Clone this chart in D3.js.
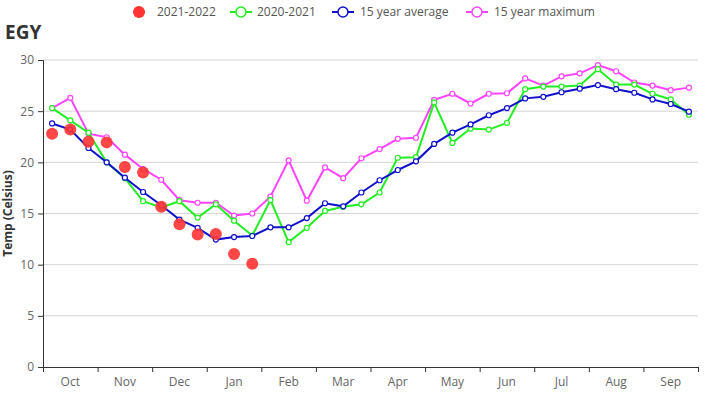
<!DOCTYPE html>
<html><head><meta charset="utf-8">
<script src="https://cdn.jsdelivr.net/npm/d3@7"></script>
<style>body{margin:0;background:#fff;}svg{display:block;font-family:"Open Sans",sans-serif;}</style>
</head><body><svg id="c" width="726" height="400"></svg>
<script>
const months = ["Oct","Nov","Dec","Jan","Feb","Mar","Apr","May","Jun","Jul","Aug","Sep"];
const yTicks = [0,5,10,15,20,25,30];
const cur = [22.8,23.2,22.0,21.95,19.55,19.0,15.65,13.95,12.95,13.0,11.05,10.1];
const prev = [25.3,24.1,22.9,20.0,18.45,16.2,15.6,16.2,14.6,15.9,14.3,12.85,16.3,12.2,13.6,15.25,15.65,15.9,17.05,20.45,20.5,25.85,21.9,23.3,23.2,23.85,27.15,27.4,27.4,27.5,29.1,27.6,27.6,26.7,26.15,24.65];
const avg = [23.8,23.2,21.4,20.0,18.5,17.1,15.8,14.4,13.6,12.45,12.7,12.8,13.65,13.65,14.55,16.0,15.7,17.05,18.25,19.25,20.1,21.8,22.9,23.7,24.6,25.3,26.25,26.4,26.85,27.2,27.55,27.15,26.8,26.15,25.7,24.95];
const maxv = [25.3,26.3,22.8,22.45,20.75,19.35,18.3,16.3,16.05,16.05,14.8,15.0,16.65,20.2,16.25,19.5,18.45,20.4,21.3,22.3,22.4,26.1,26.7,25.75,26.7,26.75,28.2,27.5,28.4,28.7,29.5,28.9,27.8,27.5,27.05,27.3];
const seriesNames = ["2021-2022","2020-2021","15 year average","15 year maximum"];
const colors = ["#ff3333","#22ee22","#1111cc","#ff44ff"];

const svg = d3.select("#c");
const L=43, R=698, T=60, B=367;
const x = d3.scaleLinear().domain([0,36]).range([L,R]);
const xm = d3.scaleBand().domain(months).range([L,R]);
const y = d3.scaleLinear().domain([0,30]).range([B,T]);

// grid
svg.append("g").selectAll("line").data(yTicks.filter(d=>d>0)).join("line")
  .attr("x1",L).attr("x2",R).attr("y1",d=>y(d)).attr("y2",d=>y(d))
  .attr("stroke","#d4d4d4").attr("stroke-width",1);

// y axis
const ya = svg.append("g").attr("transform",`translate(${L},0)`)
  .call(d3.axisLeft(y).tickValues(yTicks).tickSize(5).tickPadding(4));
ya.select(".domain").attr("stroke","#333");
ya.selectAll(".tick line").attr("stroke","#333");
ya.selectAll("text").attr("fill","#666").style("font-size","12px").style("font-family","Open Sans");

// x axis
const xa = svg.append("g").attr("transform",`translate(0,${B})`)
  .call(d3.axisBottom(x).tickValues(d3.range(0,37,3)).tickSize(5).tickFormat(""));
xa.select(".domain").attr("stroke","#333");
xa.selectAll(".tick line").attr("stroke","#333");
svg.append("g").selectAll("text").data(months).join("text")
  .attr("x",d=>xm(d)+xm.bandwidth()/2).attr("y",B+19)
  .attr("text-anchor","middle").attr("fill","#666").style("font-size","12px").text(d=>d);

// y title
svg.append("text").attr("transform",`translate(12,${(T+B)/2}) rotate(-90)`)
  .attr("text-anchor","middle").attr("font-weight","bold").attr("fill","#333")
  .style("font-size","12px").text("Temp (Celsius)");

// title
svg.append("text").attr("x",5).attr("y",39).attr("font-weight","bold").attr("fill","#333")
  .style("font-size","19px").text("EGY");

const line = d3.line().x((d,i)=>x(i+0.5)).y(d=>y(d));
function drawSeries(data,color){
  const g = svg.append("g");
  g.append("path").datum(data).attr("d",line).attr("fill","none").attr("stroke",color).attr("stroke-width",2);
  g.selectAll("circle").data(data).join("circle")
    .attr("cx",(d,i)=>x(i+0.5)).attr("cy",d=>y(d)).attr("r",2.5)
    .attr("fill","#fff").attr("stroke",color).attr("stroke-width",1.2);
}
drawSeries(maxv,colors[3]);
drawSeries(prev,colors[1]);
drawSeries(avg,colors[2]);
svg.append("g").selectAll("circle").data(cur).join("circle")
  .attr("cx",(d,i)=>x(i+0.5)).attr("cy",d=>y(d)).attr("r",6)
  .attr("fill",colors[0]).attr("fill-opacity",0.9);

// legend
const lg = svg.append("g").style("font-size","12px");
const lx = [139,230,332,466];
lg.append("circle").attr("cx",lx[0]).attr("cy",12).attr("r",6).attr("fill",colors[0]);
[1,2,3].forEach(k=>{
  lg.append("line").attr("x1",lx[k]).attr("x2",lx[k]+22).attr("y1",12).attr("y2",12).attr("stroke",colors[k]).attr("stroke-width",2);
  lg.append("circle").attr("cx",lx[k]+11).attr("cy",12).attr("r",5).attr("fill","#fff").attr("stroke",colors[k]).attr("stroke-width",1.5);
});
const tx = [157,257,360,494];
seriesNames.forEach((s,k)=>{
  lg.append("text").attr("x",tx[k]).attr("y",16).attr("fill","#555").text(s);
});
</script></body></html>
